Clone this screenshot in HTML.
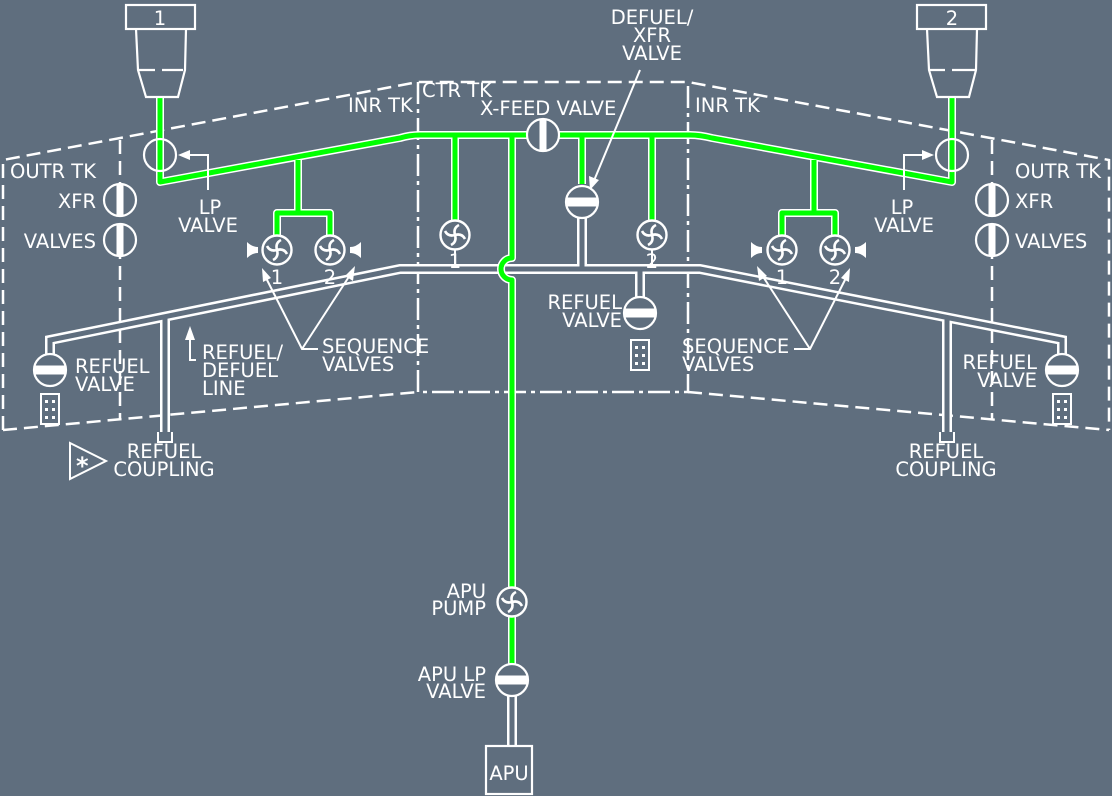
<!DOCTYPE html>
<html><head><meta charset="utf-8"><style>
html,body{margin:0;padding:0;background:#5f6e7e;}
svg{display:block;}
text{font-family:"DejaVu Sans","Liberation Sans",sans-serif;font-size:19.5px;fill:#fff;}
</style></head><body>
<svg width="1112" height="796" viewBox="0 0 1112 796" xmlns="http://www.w3.org/2000/svg">
<defs>
<g id="pump">
 <circle r="14.5" fill="#5f6e7e" stroke="#fff" stroke-width="2.4"/>
 <g fill="none" stroke="#fff" stroke-width="2.6">
  <path d="M0 0 Q-2 -7 4 -10"/><path d="M0 0 Q7 -2 10 4"/><path d="M0 0 Q2 7 -4 10"/><path d="M0 0 Q-7 2 -10 -4"/>
 </g>
</g>
<g id="hval">
 <circle r="16" fill="#5f6e7e" stroke="#fff" stroke-width="2.2"/>
 <rect x="-16" y="-4.5" width="32" height="9" fill="#fff"/>
</g>
<g id="vval">
 <circle r="16" fill="#5f6e7e" stroke="#fff" stroke-width="2.2"/>
 <rect x="-3.5" y="-16" width="7" height="32" fill="#fff"/>
</g>
<g id="conn">
 <rect x="-9" y="0" width="18" height="30" fill="#5f6e7e" stroke="#fff" stroke-width="2"/>
 <g fill="#fff"><rect x="-5" y="6" width="3" height="3"/><rect x="2" y="6" width="3" height="3"/><rect x="-5" y="14" width="3" height="3"/><rect x="2" y="14" width="3" height="3"/><rect x="-5" y="22" width="3" height="3"/><rect x="2" y="22" width="3" height="3"/></g>
</g>
<g id="bow"><path d="M0 -8 Q5 -3 11 -3 L11 3 Q5 3 0 8 Z" fill="#fff"/></g>
</defs>

<g fill="none" stroke="#fff" stroke-width="2.5" stroke-dasharray="14 7">
 <path d="M3 430 L3 160 L418 82 L688 82 L1109 160 L1109 430"/>
 <path d="M3 430 L418 392"/><path d="M688 392 L1109 430"/>
 <path d="M120 140 L120 420"/><path d="M992 140 L992 420"/>
</g>
<g fill="none" stroke="#fff" stroke-width="2.5" stroke-dasharray="22 5 4 5">
 <path d="M418 82 L418 392 L688 392 L688 82"/>
</g>

<g fill="none">
 <path d="M50 354 L50 340 L400 269 L700 269 L1062 340 L1062 354 M165 318 L165 432 M947 318 L947 432 M582 214 L582 269 M640 269 L640 298 M512 696 L512 746" stroke="#fff" stroke-width="10"/>
 <path d="M50 354 L50 340 L400 269 L700 269 L1062 340 L1062 354 M165 318 L165 432 M947 318 L947 432 M582 214 L582 269 M640 269 L640 298 M512 696 L512 746" stroke="#5f6e7e" stroke-width="5"/>
</g>
<g fill="none" stroke="#fff" stroke-width="2"><path d="M158 432 L158 442 L172 442 L172 432"/><path d="M940 432 L940 442 L954 442 L954 432"/></g>

<g stroke="#fff" stroke-width="2"><path d="M455 250 L455 265 M652 250 L652 265"/></g>

<g fill="none" stroke-linejoin="round">
 <g stroke="#fff" stroke-width="8">
  <path d="M160 97 L160 182 L400 138 Q410 135 420 135 L690 135 Q700 135 712 138 L952 182 L952 97"/>
  <path d="M298 160 L298 213 L277 213 L277 236 M298 213 L330 213 L330 236"/>
  <path d="M814 160 L814 213 L835 213 L835 236 M814 213 L782 213 L782 236"/>
  <path d="M455 135 L455 221 M582 135 L582 184 M652 135 L652 221"/>
  <path d="M512 135 L512 258 A11 11 0 0 0 512 280 L512 664"/>
 </g>
 <g stroke="#00ff00" stroke-width="5">
  <path d="M160 97 L160 182 L400 138 Q410 135 420 135 L690 135 Q700 135 712 138 L952 182 L952 97"/>
  <path d="M298 160 L298 213 L277 213 L277 236 M298 213 L330 213 L330 236"/>
  <path d="M814 160 L814 213 L835 213 L835 236 M814 213 L782 213 L782 236"/>
  <path d="M455 135 L455 221 M582 135 L582 184 M652 135 L652 221"/>
  <path d="M512 135 L512 258 A11 11 0 0 0 512 280 L512 664"/>
 </g>
</g>

<g fill="none" stroke="#fff" stroke-width="2.2">
 <rect x="126" y="5" width="69" height="24"/>
 <path d="M136 29 L138 70 L146 97 L178 97 L185 70 L186 29"/>
 <path d="M138 70 L155 70 M162 70 L183 70"/>
 <rect x="917" y="5" width="69" height="24"/>
 <path d="M927 29 L929 70 L937 97 L969 97 L976 70 L977 29"/>
 <path d="M929 70 L945 70 M952 70 L975 70"/>
 <rect x="486" y="746" width="46" height="48"/>
</g>
<text x="160" y="25" text-anchor="middle">1</text>
<text x="952" y="25" text-anchor="middle">2</text>
<text x="509" y="780" text-anchor="middle">APU</text>

<g fill="none" stroke="#fff" stroke-width="2.2"><circle cx="160" cy="155" r="16"/><circle cx="952" cy="155" r="16"/></g>

<use href="#vval" x="120" y="200"/><use href="#vval" x="120" y="240"/>
<use href="#vval" x="992" y="200"/><use href="#vval" x="992" y="240"/>
<use href="#vval" x="543" y="135"/>
<use href="#hval" x="582" y="202"/>
<use href="#hval" x="640" y="313"/>
<use href="#hval" x="50" y="370"/>
<use href="#hval" x="1062" y="370"/>
<use href="#hval" x="512" y="680"/>
<use href="#conn" x="640" y="340"/>
<use href="#conn" x="50" y="394"/>
<use href="#conn" x="1062" y="394"/>

<use href="#pump" x="277" y="250"/><use href="#pump" x="330" y="250"/>
<use href="#pump" x="782" y="250"/><use href="#pump" x="835" y="250"/>
<use href="#pump" x="455" y="235"/><use href="#pump" x="652" y="235"/>
<use href="#pump" x="512" y="602"/>
<use href="#bow" x="247" y="250"/><g transform="translate(361 250) scale(-1 1)"><use href="#bow"/></g>
<use href="#bow" x="751" y="250"/><g transform="translate(866 250) scale(-1 1)"><use href="#bow"/></g>

<text x="277" y="284" text-anchor="middle">1</text><text x="330" y="284" text-anchor="middle">2</text>
<text x="782" y="284" text-anchor="middle">1</text><text x="835" y="284" text-anchor="middle">2</text>
<text x="455" y="268" text-anchor="middle">1</text><text x="652" y="268" text-anchor="middle">2</text>

<g fill="none" stroke="#fff" stroke-width="2">
 <path d="M208 190 L208 155 L185 155"/>
 <path d="M904 190 L904 155 L927 155"/>
 <path d="M318 349 L302 349 L264 274 M302 349 L352 272"/>
 <path d="M794 349 L810 349 L848 274 M810 349 L760 272"/>
 <path d="M640 70 L593 183"/>
 <path d="M196 360 L190 360 L190 332"/>
</g>
<g fill="#fff">
 <path d="M178 155 L190 150 L190 160 Z"/>
 <path d="M934 155 L922 150 L922 160 Z"/>
 <path d="M262 268 L263 282 L271 278 Z"/>
 <path d="M355 266 L345 276 L353 281 Z"/>
 <path d="M850 268 L849 282 L841 278 Z"/>
 <path d="M757 266 L767 276 L759 281 Z"/>
 <path d="M590 190 L589 176 L599 180 Z"/>
 <path d="M190 326 L185 340 L195 340 Z"/>
</g>

<path d="M70 443 L106 461 L70 479 Z" fill="none" stroke="#fff" stroke-width="2"/>
<text x="76" y="474" style="font-size:24px;font-weight:bold">*</text>

<text x="348" y="112">INR TK</text>
<text x="695" y="112">INR TK</text>
<text x="422" y="97">CTR TK</text>
<text x="480" y="115">X-FEED VALVE</text>
<text x="652" y="24" text-anchor="middle">DEFUEL/</text>
<text x="652" y="42" text-anchor="middle">XFR</text>
<text x="652" y="60" text-anchor="middle">VALVE</text>
<text x="10" y="178">OUTR TK</text>
<text x="1015" y="178">OUTR TK</text>
<text x="96" y="208" text-anchor="end">XFR</text>
<text x="96" y="248" text-anchor="end">VALVES</text>
<text x="1015" y="208">XFR</text>
<text x="1015" y="248">VALVES</text>
<text x="210" y="214" text-anchor="middle">LP</text>
<text x="208" y="232" text-anchor="middle">VALVE</text>
<text x="902" y="214" text-anchor="middle">LP</text>
<text x="904" y="232" text-anchor="middle">VALVE</text>
<text x="75" y="373">REFUEL</text>
<text x="75" y="391">VALVE</text>
<text x="622" y="309" text-anchor="end">REFUEL</text>
<text x="622" y="327" text-anchor="end">VALVE</text>
<text x="1037" y="369" text-anchor="end">REFUEL</text>
<text x="1037" y="387" text-anchor="end">VALVE</text>
<text x="202" y="359">REFUEL/</text>
<text x="202" y="377">DEFUEL</text>
<text x="202" y="395">LINE</text>
<text x="322" y="353">SEQUENCE</text>
<text x="322" y="371">VALVES</text>
<text x="682" y="353">SEQUENCE</text>
<text x="682" y="371">VALVES</text>
<text x="164" y="458" text-anchor="middle">REFUEL</text>
<text x="164" y="476" text-anchor="middle">COUPLING</text>
<text x="946" y="458" text-anchor="middle">REFUEL</text>
<text x="946" y="476" text-anchor="middle">COUPLING</text>
<text x="486" y="598" text-anchor="end">APU</text>
<text x="486" y="615" text-anchor="end">PUMP</text>
<text x="486" y="681" text-anchor="end">APU LP</text>
<text x="486" y="698" text-anchor="end">VALVE</text>
</svg>
</body></html>
